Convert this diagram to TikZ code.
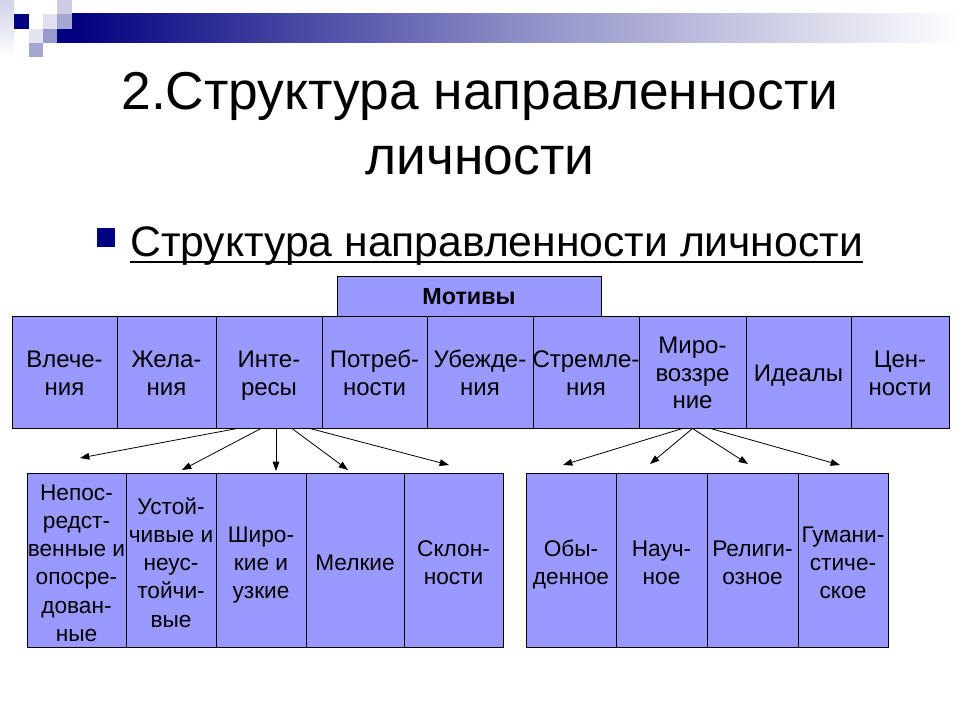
\documentclass[tikz,border=0pt]{standalone}
\usepackage{fontspec}
\setmainfont{Liberation Sans}
\usetikzlibrary{arrows.meta,calc}
\definecolor{navy}{HTML}{000080}
\definecolor{cellfill}{HTML}{9999FF}
\newcommand\cell[7][]{%
  \node[cellbox, minimum width={(#4-#3)*0.75pt}, minimum height={(#6-#5)*0.75pt}] (#2) at ({(#3+#4)/2},{(#5+#6)/2}) {};
  \node[celltext, #1] (#2-t) at (#2.center) {\strut #7\strut};}
\tikzset{
  cellbox/.style={draw=black, line width=0.75pt, fill=cellfill, inner sep=0pt},
  celltext/.style={inner sep=0pt, align=center, yshift=-2.7pt, font=\fontsize{18}{21}\selectfont},
  lowbox/.style={yshift=-1.1pt, font=\fontsize{17}{21.2}\selectfont},
  arr/.style={line width=0.6pt, -{Triangle[length=7pt,width=5pt]}}
}
\begin{document}
\begin{tikzpicture}[x=0.75pt,y=-0.75pt]
\useasboundingbox (0,0) rectangle (960,720);
\fill[white] (0,0) rectangle (960,720);
% header decoration
\shade[top color=navy!18, bottom color=white] (0,0) rectangle (14,57);
\shade[left color=navy, right color=white, middle color=navy!45] (72,14) rectangle (960,43);
\fill[navy] (57,29) rectangle (72,43);
\fill[navy!20] (57,0) rectangle (72,14);
\fill[navy!12] (43,14) rectangle (57,29);
\fill[navy] (14,14) rectangle (29,29);
\fill[navy!35] (57,14) rectangle (72,29);
\fill[navy!40] (43,29) rectangle (57,43);
\fill[navy!10] (29,29) rectangle (43,43);
\fill[navy!35] (29,43) rectangle (43,57);
% title
\node[anchor=base, font=\fontsize{40}{46}\selectfont, inner sep=0pt] (t1) at (480,110) {2.Структура направленности};
\node[anchor=base, font=\fontsize{40}{46}\selectfont, inner sep=0pt] (t2) at (480,175) {личности};
\fill[navy] (97,228) rectangle (115,247);
\node[anchor=base west, font=\fontsize{32}{36}\selectfont, inner sep=0pt] (sub) at (130,257) {Структура направленности личности};
\draw[line width=1.6pt] (sub.west |- 0,262) -- (sub.east |- 0,262);
% Motivy
\node[cellbox, font=\fontsize{17.5}{20}\selectfont\bfseries, minimum width={(601-337)*0.75pt}, minimum height={(316-277)*0.75pt}] (mot) at ({(337+601)/2},{(277+316)/2}) {Мотивы};
% top row
\cell{vl}{12}{117}{316}{428}{Влече-\\ния}
\cell{zh}{117}{216}{316}{428}{Жела-\\ния}
\cell{int}{216}{322}{316}{428}{Инте-\\ресы}
\cell{po}{322}{427}{316}{428}{Потреб-\\ности}
\cell{ub}{427}{533}{316}{428}{Убежде-\\ния}
\cell{st}{533}{639}{316}{428}{Стремле-\\ния}
\cell[font=\fontsize{18}{20.6}\selectfont]{mir}{639}{746}{316}{428}{Миро-\\воззре\\ние}
\cell{id}{746}{851}{316}{428}{Идеалы}
\cell{cen}{851}{949}{316}{428}{Цен-\\ности}
% bottom left
\cell[lowbox]{b1}{27}{126}{473}{647}{Непос-\\редст-\\венные и\\опосре-\\дован-\\ные}
\cell[lowbox]{b2}{126}{216}{473}{647}{Устой-\\чивые и\\неус-\\тойчи-\\вые}
\cell[lowbox]{b3}{216}{306}{473}{647}{Широ-\\кие и\\узкие}
\cell[lowbox]{b4}{306}{404}{473}{647}{Мелкие}
\cell[lowbox]{b5}{404}{503}{473}{647}{Склон-\\ности}
% bottom right
\cell[lowbox]{r1}{526}{616}{473}{647}{Обы-\\денное}
\cell[lowbox]{r2}{616}{707}{473}{647}{Науч-\\ное}
\cell[lowbox]{r3}{707}{798}{473}{647}{Религи-\\озное}
\cell[lowbox]{r4}{798}{888}{473}{647}{Гумани-\\стиче-\\ское}
% arrow ends
\coordinate (e1) at (80,458);
\coordinate (e2) at (182,470);
\coordinate (e3) at (276,471);
\coordinate (e4) at (348,470);
\coordinate (e5) at (449,465);
\coordinate (f1) at (563,465);
\coordinate (f2) at (650,464);
\coordinate (f3) at (748,464);
\coordinate (f4) at (840,465);
\draw[arr] ($(int.south)+(-32,0)$) -- (e1);
\draw[arr] ($(int.south)+(-8,0)$) -- (e2);
\draw[arr] ($(int.south)+(7,0)$) -- (e3);
\draw[arr] ($(int.south)+(23,0)$) -- (e4);
\draw[arr] ($(int.south)+(41,0)$) -- (e5);
\draw[arr] ($(mir.south)+(-10,0)$) -- (f1);
\draw[arr] ($(mir.south)+(0,0)$) -- (f2);
\draw[arr] ($(mir.south)+(0,0)$) -- (f3);
\draw[arr] ($(mir.south)+(18,0)$) -- (f4);
\end{tikzpicture}
\end{document}
